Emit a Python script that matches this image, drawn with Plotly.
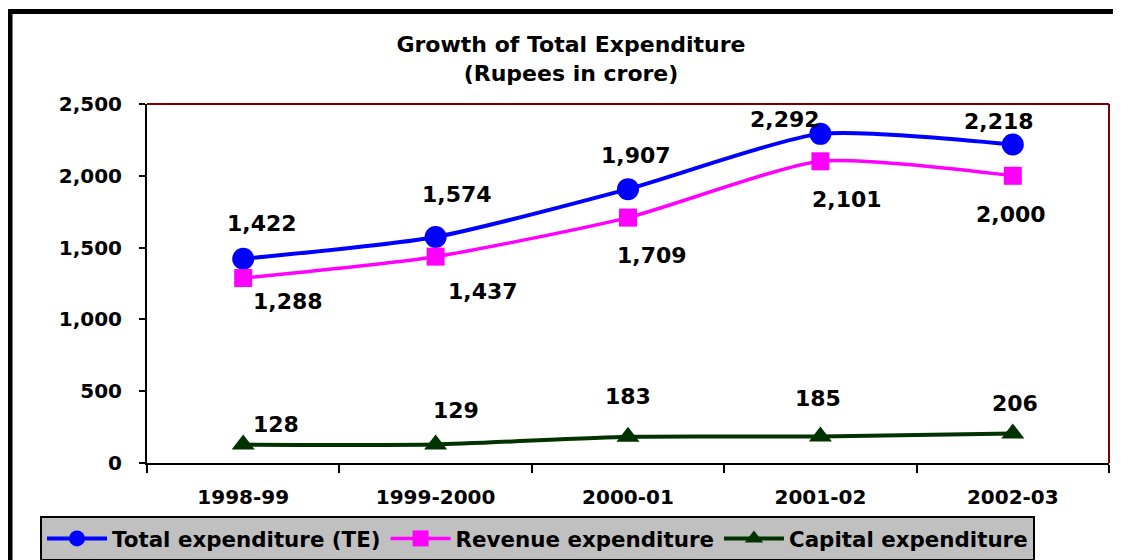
import plotly.graph_objects as go

years = ["1998-99", "1999-2000", "2000-01", "2001-02", "2002-03"]
total_exp = [1422, 1574, 1907, 2292, 2218]
revenue_exp = [1288, 1437, 1709, 2101, 2000]
capital_exp = [128, 129, 183, 185, 206]
y_ticks = [0, 500, 1000, 1500, 2000, 2500]

FONT = "DejaVu Sans, Verdana, sans-serif"
OFF = 8  # page body margin

W, H = 1121, 560
PL, PT, PR, PB = 147 - OFF, 104 - OFF, 1109 - OFF, 463 - OFF
PW, PH = PR - PL, PB - PT

fig = go.Figure()
fig.add_trace(go.Scatter(x=years, y=total_exp, name="Total expenditure (TE)",
                         mode="lines+markers", line=dict(color="#0000FF", width=4, shape="spline", smoothing=0.6),
                         marker=dict(symbol="circle", size=22, color="#0000FF")))
fig.add_trace(go.Scatter(x=years, y=revenue_exp, name="Revenue expenditure",
                         mode="lines+markers", line=dict(color="#FF00FF", width=3.5, shape="spline", smoothing=0.6),
                         marker=dict(symbol="square", size=18, color="#FF00FF")))
fig.add_trace(go.Scatter(x=years, y=capital_exp, name="Capital expenditure",
                         mode="lines+markers", line=dict(color="#003300", width=4, shape="spline", smoothing=0.6),
                         marker=dict(symbol="triangle-up", size=20, color="#003300")))

# label offsets (px) per series
te_off = [(19, 35), (21, 42), (8, 34), (-35, 14), (-14, 23)]
rev_off = [(45, -23), (47, -35), (24, -38), (27, -38), (-2, -39)]
cap_off = [(33, 20), (20, 34), (0, 40), (-2, 38), (2, 30)]

annotations = []
for vals, offs in ((total_exp, te_off), (revenue_exp, rev_off), (capital_exp, cap_off)):
    for xv, yv, (dx, dy) in zip(years, vals, offs):
        annotations.append(dict(x=xv, y=yv, text=f"{yv:,}", showarrow=False,
                                xshift=dx, yshift=dy,
                                font=dict(family=FONT, size=22, color="black", weight="bold")))

fig.update_layout(
    width=W, height=H,
    margin=dict(l=PL, r=W - PR, t=PT, b=H - PB, autoexpand=False),
    paper_bgcolor="white", plot_bgcolor="white",
    title=dict(text="Growth of Total Expenditure<br>(Rupees in crore)",
               x=(571 - OFF) / W, xref="container", xanchor="center",
               y=1 - 44 / H, yref="container", yanchor="middle",
               font=dict(family=FONT, size=22, color="black", weight="bold")),
    annotations=annotations,
    showlegend=True,
    legend=dict(orientation="h", x=(40 - 147) / 962, xanchor="left", y=(463 - 516) / 359, yanchor="top",
                bgcolor="#C0C0C0", bordercolor="black", borderwidth=2,
                font=dict(family=FONT, size=21.4, color="black", weight="bold"),
                itemwidth=60, tracegroupgap=0),
    shapes=[
        dict(type="line", xref="paper", yref="paper", x0=0, x1=1, y0=1, y1=1,
             line=dict(color="#800000", width=2)),
        dict(type="line", xref="paper", yref="paper", x0=1, x1=1, y0=0, y1=1,
             line=dict(color="#800000", width=2)),
        dict(type="rect", xref="paper", yref="paper",
             x0=(10 - 147) / 962, x1=1.3, y0=-1, y1=(463 - 11.5) / 359,
             line=dict(color="black", width=5)),
    ],
)
fig.update_xaxes(type="category", range=[-0.5, len(years) - 0.5],
                 showline=True, linecolor="black", linewidth=2,
                 ticks="outside", tickson="boundaries", ticklen=8, tickwidth=2, tickcolor="black",
                 showgrid=False, ticklabelstandoff=15,
                 tickfont=dict(family=FONT, size=20, color="black", weight="bold"))
fig.update_yaxes(range=[0, 2500], tickvals=y_ticks, tickformat=",d",
                 showline=True, linecolor="black", linewidth=2,
                 ticks="outside", ticklen=6, tickwidth=2, tickcolor="black",
                 showgrid=False, zeroline=False, ticklabelstandoff=13,
                 tickfont=dict(family=FONT, size=20, color="black", weight="bold"))

fig.write_html("out.html")
